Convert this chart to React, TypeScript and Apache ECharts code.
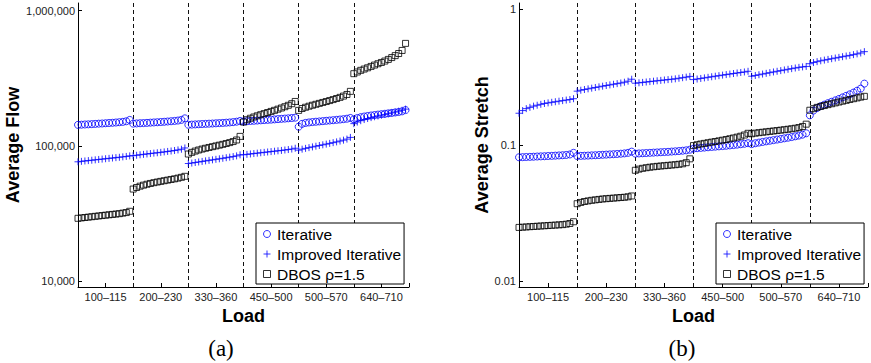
import React, { useEffect, useRef } from 'react';
import * as echarts from 'echarts';

// ---------- data ----------
const loadGroups = ['100–115', '200–230', '330–360', '450–500', '500–570', '640–710'];
const groupBoundaries = [16, 32, 48, 64, 80];
const seriesNames = ['Iterative', 'Improved Iterative', 'DBOS ρ=1.5'];

// (a) Average Flow
const flowIterative = [
  143000, 143400, 143900, 144300, 144800, 145300, 145900, 146400, 147000, 147600, 148100, 148800, 149600, 150500, 152000, 155500,
  146000, 146500, 147000, 147400, 147900, 148500, 149000, 149500, 150100, 150700, 151400, 152100, 152900, 153900, 155600, 159800,
  143200, 143600, 144100, 144500, 145000, 145400, 145900, 146300, 146800, 147300, 147800, 148400, 149000, 149800, 150900, 152800,
  151500, 152100, 152700, 153300, 153900, 154500, 155100, 155700, 156300, 157000, 157700, 158400, 159100, 159900, 160700, 161600,
  138500, 145500, 147800, 149000, 150000, 150800, 151600, 152400, 153200, 154000, 154800, 155700, 156600, 157600, 158800, 160800,
  157000, 160500, 163000, 164800, 166300, 167700, 169000, 170300, 171500, 172700, 174000, 175300, 176600, 178100, 180000, 184000,
];
const flowImproved = [
  76200, 76800, 77300, 77800, 78300, 78800, 79300, 79800, 80300, 80800, 81300, 81800, 82300, 82900, 83500, 84300,
  84600, 85200, 85900, 86500, 87100, 87700, 88300, 88900, 89500, 90200, 90900, 91600, 92400, 93300, 94400, 96500,
  74000, 74600, 75300, 76000, 76700, 77400, 78100, 78800, 79500, 80200, 80900, 81700, 82500, 83300, 84300, 85800,
  85900, 86500, 87100, 87700, 88300, 88900, 89500, 90100, 90700, 91300, 91900, 92500, 93200, 93900, 94700, 96000,
  93000, 94500, 95800, 97000, 98200, 99400, 100600, 101800, 103000, 104300, 105600, 107000, 108500, 110200, 112200, 115500,
  146000, 150000, 153500, 156500, 159300, 161800, 164200, 166500, 168700, 170900, 173100, 175400, 177800, 180400, 183300, 187000,
];
const flowDBOS = [
  29100, 29300, 29500, 29700, 29900, 30100, 30300, 30500, 30700, 30900, 31100, 31300, 31500, 31800, 32100, 32800,
  47900, 49200, 50300, 51200, 52000, 52700, 53400, 54000, 54600, 55200, 55800, 56400, 57000, 57700, 58500, 59500,
  87000, 89500, 91500, 93200, 94700, 96000, 97300, 98600, 99900, 101200, 102600, 104100, 105700, 107600, 110500, 117500,
  150000, 156000, 160000, 163500, 166800, 170000, 173200, 176500, 179800, 183200, 186800, 190600, 194800, 199500, 205000, 213000,
  183000, 189000, 193000, 196500, 199800, 203000, 206200, 209500, 212800, 216300, 220000, 224000, 228500, 233500, 240000, 253000,
  342000, 352000, 362000, 370000, 378000, 387000, 396000, 405000, 414000, 424000, 436000, 450000, 465000, 482000, 508000, 573000,
];

// (b) Average Stretch
const stretchIterative = [
  0.0816, 0.0818, 0.0820, 0.0822, 0.0824, 0.0827, 0.0829, 0.0831, 0.0834, 0.0836, 0.0839, 0.0842, 0.0845, 0.0849, 0.0856, 0.0880,
  0.0834, 0.0836, 0.0838, 0.0840, 0.0843, 0.0845, 0.0848, 0.0851, 0.0854, 0.0857, 0.0860, 0.0863, 0.0867, 0.0872, 0.0880, 0.0898,
  0.0868, 0.0871, 0.0874, 0.0877, 0.0880, 0.0883, 0.0886, 0.0889, 0.0892, 0.0895, 0.0899, 0.0903, 0.0907, 0.0912, 0.0918, 0.0928,
  0.0945, 0.0952, 0.0957, 0.0962, 0.0967, 0.0972, 0.0977, 0.0982, 0.0987, 0.0992, 0.0998, 0.1004, 0.1011, 0.1018, 0.1026, 0.1036,
  0.1020, 0.1035, 0.1047, 0.1058, 0.1069, 0.1080, 0.1091, 0.1102, 0.1113, 0.1125, 0.1137, 0.1150, 0.1164, 0.1179, 0.1197, 0.1225,
  0.166, 0.180, 0.188, 0.194, 0.199, 0.204, 0.209, 0.214, 0.219, 0.225, 0.231, 0.237, 0.244, 0.252, 0.261, 0.284,
];
const stretchImproved = [
  0.172, 0.180, 0.186, 0.190, 0.194, 0.197, 0.200, 0.203, 0.205, 0.207, 0.209, 0.211, 0.213, 0.215, 0.217, 0.220,
  0.250, 0.254, 0.257, 0.260, 0.263, 0.266, 0.269, 0.272, 0.275, 0.278, 0.281, 0.284, 0.287, 0.291, 0.296, 0.306,
  0.286, 0.288, 0.290, 0.292, 0.294, 0.296, 0.298, 0.300, 0.302, 0.304, 0.306, 0.308, 0.311, 0.314, 0.317, 0.321,
  0.304, 0.307, 0.310, 0.313, 0.316, 0.319, 0.322, 0.325, 0.328, 0.331, 0.334, 0.337, 0.340, 0.343, 0.346, 0.350,
  0.322, 0.326, 0.330, 0.334, 0.338, 0.342, 0.346, 0.350, 0.354, 0.358, 0.362, 0.366, 0.370, 0.374, 0.377, 0.380,
  0.398, 0.406, 0.412, 0.418, 0.423, 0.428, 0.433, 0.438, 0.443, 0.448, 0.453, 0.458, 0.464, 0.470, 0.477, 0.488,
];
const stretchDBOS = [
  0.0249, 0.0250, 0.0251, 0.0252, 0.0253, 0.0254, 0.0255, 0.0256, 0.0257, 0.0258, 0.0259, 0.0260, 0.0261, 0.0263, 0.0266, 0.0274,
  0.0372, 0.0380, 0.0386, 0.0390, 0.0394, 0.0397, 0.0400, 0.0403, 0.0405, 0.0407, 0.0409, 0.0411, 0.0413, 0.0415, 0.0418, 0.0424,
  0.0655, 0.0668, 0.0677, 0.0684, 0.0690, 0.0695, 0.0700, 0.0704, 0.0708, 0.0712, 0.0716, 0.0720, 0.0725, 0.0731, 0.0745, 0.0795,
  0.0995, 0.1010, 0.1022, 0.1033, 0.1044, 0.1055, 0.1066, 0.1078, 0.1090, 0.1103, 0.1117, 0.1132, 0.1148, 0.1166, 0.1190, 0.1225,
  0.1215, 0.1228, 0.1238, 0.1247, 0.1256, 0.1265, 0.1274, 0.1283, 0.1292, 0.1302, 0.1312, 0.1323, 0.1335, 0.1350, 0.1375, 0.1430,
  0.181, 0.186, 0.190, 0.193, 0.196, 0.199, 0.202, 0.205, 0.208, 0.211, 0.214, 0.217, 0.220, 0.223, 0.226, 0.229,
];

// ---------- styling ----------
const SANS = 'Liberation Sans';
const BLUE = '#0000ff';
const PLUS = 'path://M5,0L5,10M0,5L10,5';
const SQUARE = 'path://M0,0L10,0L10,10L0,10Z';
const TRANSPARENT = 'rgba(0,0,0,0)';

const toPoints = (vals: number[]) => vals.map((v, i) => [i, v]);

const seriesStyles = [
  { symbol: 'circle', legendIcon: 'circle', symbolSize: 7, itemStyle: { color: TRANSPARENT, borderColor: BLUE, borderWidth: 1 } },
  { symbol: PLUS, legendIcon: PLUS, symbolSize: 7, itemStyle: { color: TRANSPARENT, borderColor: BLUE, borderWidth: 1 } },
  { symbol: 'rect', legendIcon: SQUARE, symbolSize: 6, itemStyle: { color: TRANSPARENT, borderColor: '#000', borderWidth: 1 } },
];

const makeXAxis = (gridIndex: number) => ({
  type: 'value',
  gridIndex,
  min: 0,
  max: 96,
  interval: 8,
  axisLine: { show: true, onZero: false, lineStyle: { color: '#000', width: 1 } },
  axisTick: { show: true, inside: true, length: 4, lineStyle: { color: '#000' } },
  axisLabel: {
    fontFamily: SANS,
    fontSize: 11,
    color: '#222',
    margin: 4,
    formatter: (v: number) => (v % 16 === 8 ? loadGroups[(v - 8) / 16] : ''),
  },
  splitLine: { show: false },
  name: 'Load',
  nameLocation: 'middle',
  nameGap: 14,
  nameTextStyle: { fontFamily: SANS, fontSize: 18, fontWeight: 'bold', color: '#000' },
});

const makeYAxis = (gridIndex: number, min: number, max: number, name: string, nameGap: number, fmt: (v: number) => string) => ({
  type: 'log',
  logBase: 10,
  gridIndex,
  min,
  max,
  axisLine: { show: true, lineStyle: { color: '#000', width: 1 } },
  axisTick: { show: true, inside: true, length: 4, lineStyle: { color: '#000' } },
  axisLabel: { fontFamily: SANS, fontSize: 11, color: '#222', margin: 3, showMinLabel: false, showMaxLabel: false, formatter: fmt },
  splitLine: { show: false },
  minorTick: { show: false },
  name,
  nameLocation: 'middle',
  nameGap,
  nameTextStyle: { fontFamily: SANS, fontSize: 18, fontWeight: 'bold', color: '#000' },
});

const boundaryMarkLine = {
  silent: true,
  symbol: ['none', 'none'],
  label: { show: false },
  lineStyle: { color: '#111', type: [4, 3], width: 1 },
  emphasis: { disabled: true },
  data: groupBoundaries.map((b) => ({ xAxis: b })),
};

const makeLegend = (left: number, top: number) => ({
  orient: 'vertical',
  left,
  top,
  z: 20,
  zlevel: 0,
  padding: [3, 3, 2, 7],
  itemGap: 4,
  itemWidth: 10,
  itemHeight: 7,
  borderColor: '#000',
  borderWidth: 1,
  borderRadius: 0,
  backgroundColor: '#fff',
  selectedMode: false,
  symbolKeepAspect: true,
  itemStyle: { borderWidth: 1 },
  textStyle: { fontFamily: SANS, fontSize: 15.5, color: '#000', lineHeight: 16 },
  data: seriesNames.map((n, i) => ({ name: n, icon: seriesStyles[i].legendIcon })),
});

export default function App() {
  const ref = useRef<HTMLDivElement>(null);
  useEffect(() => {
    document.body.style.margin = '0';
    if (!ref.current) return;
    const chart = echarts.init(ref.current, undefined, { renderer: 'svg' });
    const flowData = [flowIterative, flowImproved, flowDBOS];
    const stretchData = [stretchIterative, stretchImproved, stretchDBOS];
    const series: any[] = [];
    [flowData, stretchData].forEach((set, g) => {
      set.forEach((vals, i) => {
        series.push({
          name: seriesNames[i],
          type: 'scatter',
          xAxisIndex: g,
          yAxisIndex: g,
          z: 2,
          symbol: seriesStyles[i].symbol,
          symbolSize: seriesStyles[i].symbolSize,
          itemStyle: seriesStyles[i].itemStyle,
          emphasis: { disabled: true },
          data: toPoints(vals),
          ...(i === 0 ? { markLine: { ...boundaryMarkLine, z: 1 } } : {}),
        });
      });
    });
    chart.setOption({
      animation: false,
      backgroundColor: '#fff',
      grid: [
        { left: 78, top: 3, width: 331, height: 284 },
        { left: 519, top: 3, width: 351, height: 284 },
      ],
      xAxis: [makeXAxis(0), makeXAxis(1)],
      yAxis: [
        makeYAxis(0, 9030, 1140000, 'Average Flow', 52, (v: number) => Math.round(v).toLocaleString('en-US')),
        makeYAxis(1, 0.00908, 1.112, 'Average Stretch', 28, (v: number) => String(+v.toPrecision(4))),
      ],
      legend: [makeLegend(256, 223), makeLegend(716, 223)],
      graphic: [
        {
          type: 'text',
          x: 221,
          y: 348,
          style: { text: '(a)', fontFamily: 'Liberation Serif', fontSize: 23, fill: '#000', align: 'center', verticalAlign: 'middle' },
        },
        {
          type: 'text',
          x: 682,
          y: 348,
          style: { text: '(b)', fontFamily: 'Liberation Serif', fontSize: 23, fill: '#000', align: 'center', verticalAlign: 'middle' },
        },
      ],
      series,
    });
    return () => chart.dispose();
  }, []);
  return <div ref={ref} style={{ width: 871, height: 363 }} />;
}
